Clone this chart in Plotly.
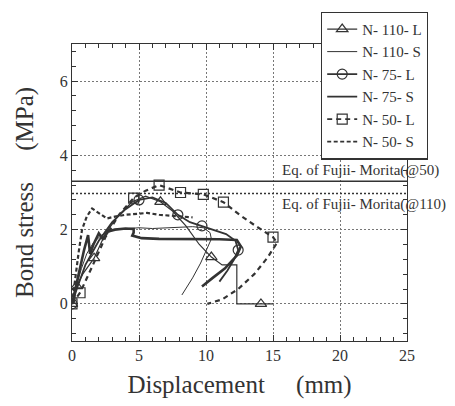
import plotly.graph_objects as go

# ---------------- data ----------------
N110L_x = [0, 0.35, 0.8, 1.65, 2.5, 3.5, 4.5, 5.5, 6.6, 7.5, 8.5, 9.5, 10.4, 11.2, 12.3, 12.3, 14.1, 15.0]
N110L_y = [0, 0.48, 0.8, 1.23, 1.9, 2.4, 2.75, 2.9, 2.75, 2.5, 2.1, 1.6, 1.26, 1.05, 1.05, 0, 0, 0]
N110L_marks = [0, 1, 3, 8, 12, 16]

N110S_x = [0, 0.3, 0.7, 1.1, 1.6, 2.2, 3.0, 4.0, 5.0, 6.0, 7.0, 8.0, 9.0, 9.8, 10.3, 10.4, 10.1, 9.6, 9.0, 8.2]
N110S_y = [0, 0.45, 0.95, 1.35, 1.65, 1.85, 2.0, 2.03, 2.05, 2.03, 2.04, 2.06, 2.08, 2.05, 1.92, 1.75, 1.5, 1.1, 0.7, 0.24]

N75L_x = [0, 0.4, 1.0, 2.0, 3.0, 4.0, 5.0, 6.0, 7.0, 7.9, 8.8, 9.7, 10.6, 11.5, 12.2, 12.4, 12.1, 11.6, 11.0]
N75L_y = [0, 0.45, 1.05, 1.7, 2.2, 2.55, 2.8, 2.87, 2.72, 2.4, 2.2, 2.1, 2.0, 1.88, 1.7, 1.45, 1.2, 0.9, 0.6]
N75L_marks = [0, 6, 9, 11, 15]

N75S_x = [0, 0.3, 0.6, 0.9, 1.2, 1.35, 1.6, 2.0, 2.3, 2.7, 3.2, 4.0, 4.6, 4.6, 4.5, 5.2, 6.5, 8.0, 9.5, 11.0, 12.3, 12.6, 12.3, 11.4, 10.5, 9.7]
N75S_y = [0, 0.5, 0.95, 1.45, 1.85, 1.35, 1.6, 1.9, 1.75, 1.95, 2.0, 2.03, 2.02, 1.92, 1.84, 1.77, 1.75, 1.75, 1.75, 1.74, 1.72, 1.55, 1.3, 0.95, 0.7, 0.47]

N50L_x = [0, 0.6, 1.5, 2.5, 3.5, 4.6, 5.5, 6.5, 8.1, 9.8, 11.3, 12.5, 13.7, 15.0, 15.3, 14.6, 13.6, 12.4, 11.2, 10.1]
N50L_y = [0, 0.3, 1.0, 1.8, 2.4, 2.85, 3.05, 3.2, 3.0, 2.95, 2.74, 2.4, 2.1, 1.8, 1.65, 1.25, 0.8, 0.4, 0.12, 0.0]
N50L_marks = [0, 1, 5, 7, 8, 9, 10, 13]

N50S_x = [0, 0.2, 0.5, 0.75, 1.1, 1.5, 2.0, 2.6, 3.2, 4.0, 5.0, 5.6, 6.5, 7.5, 8.5, 9.0]
N50S_y = [0, 0.6, 1.4, 2.0, 2.35, 2.57, 2.45, 2.3, 2.35, 2.4, 2.43, 2.45, 2.4, 2.38, 2.35, 2.33]

FUJII_50 = 3.3
FUJII_110 = 2.97
X_RANGE = [0, 25]
Y_RANGE = [-1, 7]

SERIES_NAMES = ["N- 110- L", "N- 110- S", "N- 75- L", "N- 75- S", "N- 50- L", "N- 50- S"]

# ---------------- styles ----------------
INK = "#333333"
SERIF = "Liberation Serif, Times New Roman, serif"

styles = {
    "N- 110- L": dict(width=1.2, dash="solid", symbol="triangle-up-open"),
    "N- 110- S": dict(width=1.0, dash="solid", symbol=None),
    "N- 75- L": dict(width=1.8, dash="solid", symbol="circle-open"),
    "N- 75- S": dict(width=2.6, dash="solid", symbol=None),
    "N- 50- L": dict(width=2.2, dash="5px,4px", symbol="square-open"),
    "N- 50- S": dict(width=2.2, dash="4px,2.5px", symbol=None),
}

data = {
    "N- 110- L": (N110L_x, N110L_y, N110L_marks),
    "N- 110- S": (N110S_x, N110S_y, None),
    "N- 75- L": (N75L_x, N75L_y, N75L_marks),
    "N- 75- S": (N75S_x, N75S_y, None),
    "N- 50- L": (N50L_x, N50L_y, N50L_marks),
    "N- 50- S": (N50S_x, N50S_y, None),
}

fig = go.Figure()

# reference lines
fig.add_trace(go.Scatter(x=X_RANGE, y=[FUJII_50, FUJII_50], mode="lines",
                         line=dict(color=INK, width=1.5), showlegend=False, hoverinfo="skip"))
fig.add_trace(go.Scatter(x=X_RANGE, y=[FUJII_110, FUJII_110], mode="lines",
                         line=dict(color=INK, width=1.5, dash="2px,2px"), showlegend=False, hoverinfo="skip"))

for name in SERIES_NAMES:
    xs, ys, marks = data[name]
    st = styles[name]
    fig.add_trace(go.Scatter(x=xs, y=ys, mode="lines", name=name,
                             line=dict(color=INK, width=st["width"], dash=st["dash"]),
                             showlegend=False))
    if marks is not None:
        fig.add_trace(go.Scatter(x=[xs[i] for i in marks], y=[ys[i] for i in marks],
                                 mode="markers", name=name, showlegend=False,
                                 marker=dict(symbol=st["symbol"], size=10,
                                             color=INK, line=dict(width=1.2, color=INK))))

# legend entries
for name in SERIES_NAMES:
    st = styles[name]
    lw = min(st["width"], 1.8)
    if st["symbol"]:
        fig.add_trace(go.Scatter(x=[None], y=[None], mode="lines+markers", name=name,
                                 line=dict(color=INK, width=lw, dash=st["dash"]),
                                 marker=dict(symbol=st["symbol"], size=10, color=INK,
                                             line=dict(width=1.2, color=INK))))
    else:
        fig.add_trace(go.Scatter(x=[None], y=[None], mode="lines", name=name,
                                 line=dict(color=INK, width=lw, dash=st["dash"])))

W, H = 455, 406
ML, MR, MT, MB = 72, 48, 41, 62
PW, PH = W - ML - MR, H - MT - MB

def px2paper_x(px):
    return (px - ML) / PW

def px2paper_y(py):
    return (H - MB - py) / PH

axis_common = dict(
    showline=True, linecolor=INK, linewidth=1.2, mirror="ticks",
    ticks="inside", ticklen=6, tickwidth=1.2, tickcolor=INK,
    showgrid=True, gridcolor="#777777", gridwidth=1, griddash="1.5px,2.5px",
    zeroline=False,
    tickfont=dict(family=SERIF, size=16, color=INK),
)

fig.update_xaxes(range=X_RANGE, dtick=5, tick0=0,
                 minor=dict(dtick=1, ticks="inside", ticklen=4, tickwidth=1, tickcolor=INK, showgrid=False),
                 title=dict(text="Displacement" + "\u00a0" * 5 + "(mm)",
                            font=dict(family=SERIF, size=25, color=INK), standoff=12),
                 **axis_common)
fig.update_yaxes(range=Y_RANGE, dtick=2, tick0=0,
                 minor=dict(dtick=0.4, ticks="inside", ticklen=4, tickwidth=1, tickcolor=INK, showgrid=False),
                 title=dict(text="Bond stress" + "\u00a0" * 5 + "(MPa)",
                            font=dict(family=SERIF, size=25, color=INK), standoff=18),
                 **axis_common)

fig.add_annotation(x=px2paper_x(280), xref="paper", y=FUJII_50, yref="y",
                   xanchor="left", yanchor="bottom", showarrow=False,
                   text="Eq. of Fujii- Morita(@50)",
                   font=dict(family=SERIF, size=15, color=INK))
fig.add_annotation(x=px2paper_x(280), xref="paper", y=FUJII_110, yref="y",
                   xanchor="left", yanchor="top", showarrow=False,
                   text="Eq. of Fujii- Morita(@110)",
                   font=dict(family=SERIF, size=15, color=INK))

# legend shadow
fig.add_shape(type="rect", xref="paper", yref="paper",
              x0=px2paper_x(324), x1=px2paper_x(427),
              y0=px2paper_y(148), y1=px2paper_y(11),
              fillcolor=INK, line=dict(width=0), layer="above")

fig.update_layout(
    width=W, height=H,
    margin=dict(l=ML, r=MR, t=MT, b=MB),
    paper_bgcolor="white", plot_bgcolor="white",
    font=dict(family=SERIF, color=INK),
    legend=dict(x=px2paper_x(321), y=px2paper_y(8), xanchor="left", yanchor="top",
                bgcolor="white", bordercolor=INK, borderwidth=1.2,
                font=dict(family=SERIF, size=15, color=INK),
                tracegroupgap=0, itemwidth=30),
)

fig.write_html("out.html")
